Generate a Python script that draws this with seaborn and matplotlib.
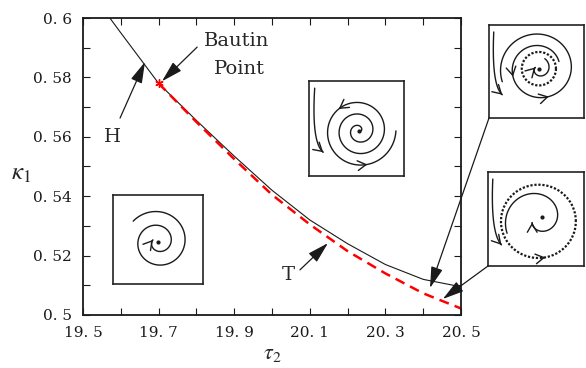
import numpy as np
import matplotlib
matplotlib.use("Agg")
import matplotlib.pyplot as plt
import seaborn as sns

# Hopf (H) and tangent/limit-point-of-cycles (T) curves in (tau2, kappa1)
tau_H = [19.571, 19.6, 19.7, 19.8, 19.9, 20.0, 20.1, 20.2, 20.3, 20.4, 20.5]
kappa_H = [0.600, 0.5950, 0.5780, 0.5655, 0.5535, 0.5420, 0.5320, 0.5240, 0.5170, 0.5120, 0.5095]
tau_T = [19.7, 19.8, 19.9, 20.0, 20.1, 20.2, 20.3, 20.4, 20.5]
kappa_T = [0.5780, 0.5650, 0.5525, 0.5405, 0.5305, 0.5215, 0.5140, 0.5073, 0.5022]
bautin = (19.7, 0.578)

x_ticks = [19.5, 19.6, 19.7, 19.8, 19.9, 20.0, 20.1, 20.2, 20.3, 20.4, 20.5]
x_labels = ["19. 5", "", "19. 7", "", "19. 9", "", "20. 1", "", "20. 3", "", "20. 5"]
y_ticks = [0.50, 0.51, 0.52, 0.53, 0.54, 0.55, 0.56, 0.57, 0.58, 0.59, 0.60]
y_labels = ["0. 5", "", "0. 52", "", "0. 54", "", "0. 56", "", "0. 58", "", "0. 6"]

sns.set_theme(style="ticks")
plt.rcParams["font.family"] = ["DejaVu Serif", "Liberation Serif"]
plt.rcParams["mathtext.fontset"] = "stix"

fig = plt.figure(figsize=(5.86, 3.68), dpi=100)
ax = fig.add_axes([83 / 586, 1 - 315 / 368, 378 / 586, 297 / 368])

sns.lineplot(x=tau_H, y=kappa_H, ax=ax, color="k", lw=0.8, sort=False)
sns.lineplot(x=tau_T, y=kappa_T, ax=ax, color="red", lw=1.8, sort=False,
             linestyle=(0, (4, 2.5)))
ax.plot(*bautin, marker=(6, 2, 0), color="red", ms=6, mew=1)

ax.set_xlim(19.5, 20.5)
ax.set_ylim(0.5, 0.6)
ax.set_xticks(x_ticks)
ax.set_xticklabels(x_labels)
ax.set_yticks(y_ticks)
ax.set_yticklabels(y_labels)
ax.tick_params(direction="in", top=True, right=True, length=5, width=0.8,
               labelsize=11, colors="k", pad=8)
for s in ax.spines.values():
    s.set_linewidth(1.3)
    s.set_color("k")
ax.set_xlabel(r"$\tau_2$", fontsize=16, labelpad=1)
ax.set_ylabel(r"$\kappa_1$", fontsize=18, rotation=0, ha="center", va="center")
ax.yaxis.set_label_coords(-0.163, 0.478)

big_arrow = dict(arrowstyle="-|>,head_length=1.0,head_width=0.28", color="k",
                 lw=0.9, mutation_scale=13, shrinkA=0, shrinkB=0)

ax.text(19.579, 0.5599, "H", fontsize=14, ha="center", va="center")
ax.annotate("", xy=(19.664, 0.5852), xytext=(19.598, 0.5663), arrowprops=big_arrow)
ax.annotate("", xy=(19.709, 0.5787), xytext=(19.802, 0.5902), arrowprops=big_arrow)
ax.text(19.907, 0.5923, "Bautin", fontsize=14, ha="center", va="center")
ax.text(19.915, 0.5828, "Point", fontsize=14, ha="center", va="center")
ax.text(20.042, 0.5135, "T", fontsize=14, ha="center", va="center")
ax.annotate("", xy=(20.148, 0.5242), xytext=(20.074, 0.5152), arrowprops=big_arrow)
ax.annotate("", xy=(20.418, 0.5091), xytext=(489 / 586, 1 - 118 / 368),
            textcoords="figure fraction", arrowprops=big_arrow, annotation_clip=False)
ax.annotate("", xy=(20.452, 0.5054), xytext=(488 / 586, 1 - 266 / 368),
            textcoords="figure fraction", arrowprops=big_arrow, annotation_clip=False)


# ---- phase portrait sketches ----
def inset(box):
    x0, y0, x1, y1 = box
    a = fig.add_axes([x0 / 586, 1 - y1 / 368, (x1 - x0) / 586, (y1 - y0) / 368])
    a.set_xlim(-1, 1)
    a.set_ylim(-1, 1)
    a.set_xticks([])
    a.set_yticks([])
    for s in a.spines.values():
        s.set_linewidth(1.2)
        s.set_color("#222222")
    return a


def spiral(a, c, r0, r1, th0, th1, arrows=(), ls="-", lw=1.0):
    th = np.radians(np.linspace(th0, th1, 400))
    r = np.linspace(r0, r1, 400)
    x = c[0] + r * np.cos(th)
    y = c[1] + r * np.sin(th)
    a.plot(x, y, color="k", lw=lw, linestyle=ls)
    for f in arrows:
        i = int(f * 399)
        j = max(i - 3, 0)
        a.annotate("", xy=(x[i], y[i]), xytext=(x[j], y[j]),
                   arrowprops=dict(arrowstyle="->,head_length=0.6,head_width=0.35",
                                   color="k", lw=1.0, mutation_scale=10))


def inflow(a, p0, p1, p2):
    t = np.linspace(0, 1, 100)[:, None]
    pts = (1 - t) ** 2 * np.array(p0) + 2 * t * (1 - t) * np.array(p1) + t ** 2 * np.array(p2)
    a.plot(pts[:, 0], pts[:, 1], color="k", lw=1.0)
    a.annotate("", xy=pts[-1], xytext=pts[-4],
               arrowprops=dict(arrowstyle="->,head_length=0.6,head_width=0.35",
                               color="k", lw=1.0, mutation_scale=10))


# stable focus
a1 = inset((113, 195, 203, 284))
spiral(a1, (0.0, -0.05), 0.72, 0.12, 140, -560, arrows=(1.0,))
a1.plot(0.0, -0.05, "k.", ms=4)

# unstable focus
a2 = inset((309, 81, 404, 176))
spiral(a2, (0.05, -0.05), 0.05, 0.78, 0, 1080, arrows=(0.79, 0.93))
a2.plot(0.05, -0.05, "k.", ms=4)
inflow(a2, (-0.88, 0.85), (-0.95, -0.3), (-0.7, -0.5))

# small unstable cycle
a3 = inset((489, 25, 584, 118))
c3 = (0.05, 0.06)
spiral(a3, c3, 0.36, 0.36, 0, 360, ls=(0, (1, 0.8)), lw=1.6)
spiral(a3, c3, 0.45, 0.82, 20, 560, arrows=(0.33, 0.5))
spiral(a3, c3, 0.25, 0.08, 60, -200, arrows=(1.0,))
a3.plot(*c3, "k.", ms=4)
inflow(a3, (-0.9, 0.85), (-0.95, -0.3), (-0.72, -0.5))

# large cycle
a4 = inset((488, 172, 584, 266))
c4 = (0.05, 0.0)
spiral(a4, (0.05, -0.05), 0.78, 0.78, 0, 360, ls=(0, (1, 0.8)), lw=1.6,
       arrows=(0.78,))
spiral(a4, c4, 0.72, 0.15, 205, -150, arrows=(1.0,))
a4.plot(0.12, 0.05, "k.", ms=4)
inflow(a4, (-0.9, 0.85), (-0.95, -0.3), (-0.72, -0.55))

fig.savefig("out.png", dpi=100)
